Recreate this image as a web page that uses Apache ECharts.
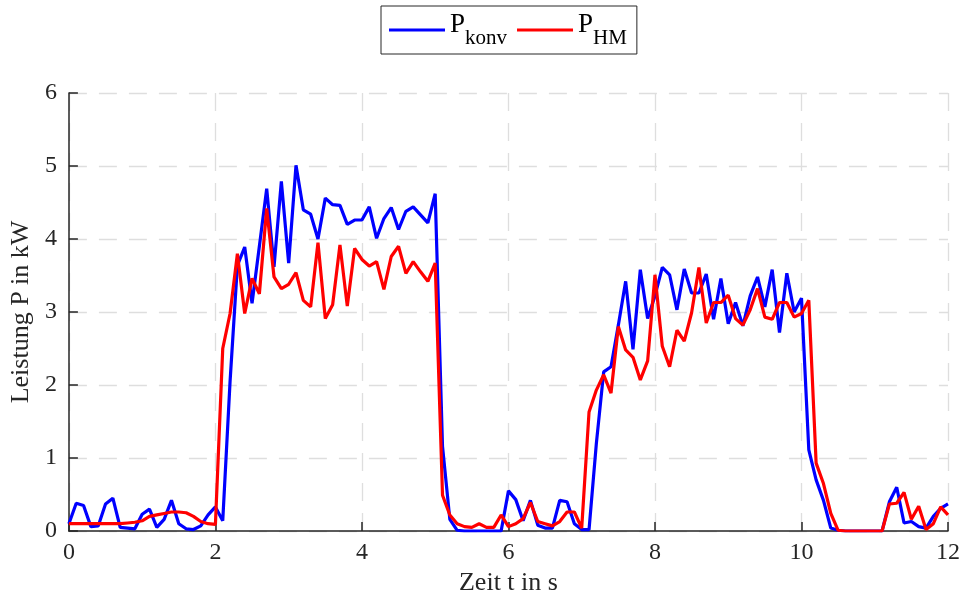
<!DOCTYPE html>
<html>
<head>
<meta charset="utf-8">
<script src="https://cdn.jsdelivr.net/npm/echarts@6/dist/echarts.min.js"></script>
<style>
html,body{margin:0;padding:0;background:#fff;}
#chart{width:964px;height:605px;}
</style>
</head>
<body>
<div id="chart"></div>
<script>
// sample spacing of the measurement (s)
var sampleStep = 0.1;
var xTicks = [0, 2, 4, 6, 8, 10, 12];
var yTicks = [0, 1, 2, 3, 4, 5, 6];
var seriesNames = ['P_konv', 'P_HM'];

// P_konv in kW, t = 0.0 ... 12.0 s
var pKonv = [
  0.10, 0.38, 0.35, 0.06, 0.07, 0.37, 0.45, 0.05, 0.04, 0.03,   // 0.0-0.9
  0.23, 0.30, 0.05, 0.16, 0.42, 0.10, 0.03, 0.02, 0.07, 0.22,   // 1.0-1.9
  0.33, 0.14, 2.05, 3.64, 3.89, 3.12, 3.90, 4.69, 3.62, 4.79,   // 2.0-2.9
  3.67, 5.01, 4.40, 4.34, 4.00, 4.56, 4.47, 4.46, 4.20, 4.26,   // 3.0-3.9
  4.26, 4.44, 4.01, 4.28, 4.43, 4.13, 4.38, 4.44, 4.33, 4.22,   // 4.0-4.9
  4.62, 1.16, 0.16, 0.01, 0.00, 0.00, 0.00, 0.00, 0.00, 0.00,   // 5.0-5.9
  0.55, 0.43, 0.14, 0.42, 0.08, 0.04, 0.04, 0.42, 0.40, 0.10,   // 6.0-6.9
  0.02, 0.02, 1.20, 2.18, 2.25, 2.82, 3.42, 2.49, 3.58, 2.91,   // 7.0-7.9
  3.22, 3.61, 3.51, 3.03, 3.59, 3.26, 3.26, 3.52, 2.90, 3.46,   // 8.0-8.9
  2.84, 3.13, 2.81, 3.22, 3.48, 3.07, 3.58, 2.72, 3.53, 3.00,   // 9.0-9.9
  3.19, 1.11, 0.70, 0.42, 0.04, 0.01, 0.00, 0.00, 0.00, 0.00,   // 10.0-10.9
  0.00, 0.00, 0.40, 0.60, 0.11, 0.13, 0.06, 0.04, 0.20, 0.31,   // 11.0-11.9
  0.37                                                          // 12.0
];

// P_HM in kW, t = 0.0 ... 12.0 s
var pHM = [
  0.10, 0.10, 0.10, 0.10, 0.10, 0.10, 0.10, 0.10, 0.11, 0.12,   // 0.0-0.9
  0.14, 0.20, 0.22, 0.24, 0.26, 0.26, 0.25, 0.20, 0.13, 0.10,   // 1.0-1.9
  0.09, 2.50, 2.98, 3.80, 2.98, 3.46, 3.25, 4.42, 3.48, 3.32,   // 2.0-2.9
  3.38, 3.54, 3.16, 3.07, 3.95, 2.91, 3.10, 3.92, 3.08, 3.87,   // 3.0-3.9
  3.72, 3.63, 3.69, 3.31, 3.76, 3.90, 3.53, 3.69, 3.55, 3.42,   // 4.0-4.9
  3.67, 0.49, 0.22, 0.10, 0.06, 0.05, 0.10, 0.05, 0.05, 0.22,   // 5.0-5.9
  0.06, 0.10, 0.17, 0.39, 0.13, 0.10, 0.07, 0.13, 0.26, 0.26,   // 6.0-6.9
  0.04, 1.63, 1.93, 2.14, 1.89, 2.80, 2.48, 2.38, 2.07, 2.33,   // 7.0-7.9
  3.51, 2.53, 2.25, 2.75, 2.60, 2.99, 3.61, 2.85, 3.13, 3.13,   // 8.0-8.9
  3.23, 2.91, 2.82, 3.03, 3.32, 2.93, 2.90, 3.13, 3.13, 2.93,   // 9.0-9.9
  2.98, 3.16, 0.93, 0.65, 0.24, 0.01, 0.00, 0.00, 0.00, 0.00,   // 10.0-10.9
  0.00, 0.00, 0.37, 0.38, 0.53, 0.16, 0.34, 0.02, 0.10, 0.33,   // 11.0-11.9
  0.22                                                          // 12.0
];

function pairs(values) {
  return values.map(function (v, i) {
    return [Math.round(i * sampleStep * 10) / 10, v];
  });
}

var SERIF = '"Liberation Serif", "DejaVu Serif", serif';
var AXIS_COLOR = '#262626';
var GRID_COLOR = '#dedede';

var chart = echarts.init(document.getElementById('chart'), null, {renderer: 'canvas'});
var option = {
  animation: false,
  backgroundColor: '#ffffff',
  grid: {left: 67, right: 16, top: 93, bottom: 74, containLabel: false},
  legend: {
    left: 381, top: 6,
    orient: 'horizontal',
    padding: [5, 10, 5, 8],
    itemGap: 10,
    itemWidth: 56, itemHeight: 3,
    icon: 'rect',
    borderColor: AXIS_COLOR, borderWidth: 1, borderRadius: 0,
    backgroundColor: '#ffffff',
    data: seriesNames,
    formatter: function (name) {
      var sub = name.split('_')[1];
      return '{p|P}{s|' + sub + '}';
    },
    textStyle: {
      fontFamily: SERIF, color: '#000',
      padding: [0, 0, 0, 0],
      rich: {
        p: {fontFamily: SERIF, fontSize: 27, color: '#000', verticalAlign: 'bottom', padding: [0, 0, 11, 0]},
        s: {fontFamily: SERIF, fontSize: 21, color: '#000', verticalAlign: 'bottom'}
      }
    }
  },
  xAxis: {
    type: 'value',
    min: xTicks[0], max: xTicks[xTicks.length - 1], interval: 2,
    name: 'Zeit t in s',
    nameLocation: 'middle', nameGap: 39,
    nameTextStyle: {fontFamily: SERIF, fontSize: 26, color: AXIS_COLOR},
    axisLine: {show: true, onZero: false, lineStyle: {color: AXIS_COLOR, width: 1.5}},
    axisTick: {show: true, inside: true, length: 9, lineStyle: {color: AXIS_COLOR, width: 1.5}},
    axisLabel: {fontFamily: SERIF, fontSize: 24, color: AXIS_COLOR, margin: 10},
    splitLine: {show: true, lineStyle: {color: GRID_COLOR, width: 1.3, type: [18, 12]}}
  },
  yAxis: {
    type: 'value',
    min: yTicks[0], max: yTicks[yTicks.length - 1], interval: 1,
    name: 'Leistung P in kW',
    nameLocation: 'middle', nameGap: 27,
    nameRotate: 90,
    nameTextStyle: {fontFamily: SERIF, fontSize: 26, color: AXIS_COLOR},
    axisLine: {show: true, onZero: false, lineStyle: {color: AXIS_COLOR, width: 1.5}},
    axisTick: {show: true, inside: true, length: 9, lineStyle: {color: AXIS_COLOR, width: 1.5}},
    axisLabel: {fontFamily: SERIF, fontSize: 24, color: AXIS_COLOR, margin: 12},
    splitLine: {show: true, lineStyle: {color: GRID_COLOR, width: 1.3, type: [18, 12]}}
  },
  series: [
    {
      name: seriesNames[0], type: 'line', data: pairs(pKonv),
      showSymbol: false, symbol: 'none',
      lineStyle: {color: '#0000ff', width: 3.2}, itemStyle: {color: '#0000ff'},
      z: 2
    },
    {
      name: seriesNames[1], type: 'line', data: pairs(pHM),
      showSymbol: false, symbol: 'none',
      lineStyle: {color: '#ff0000', width: 3.2}, itemStyle: {color: '#ff0000'},
      z: 3
    }
  ]
};
chart.setOption(option);
</script>
</body>
</html>
